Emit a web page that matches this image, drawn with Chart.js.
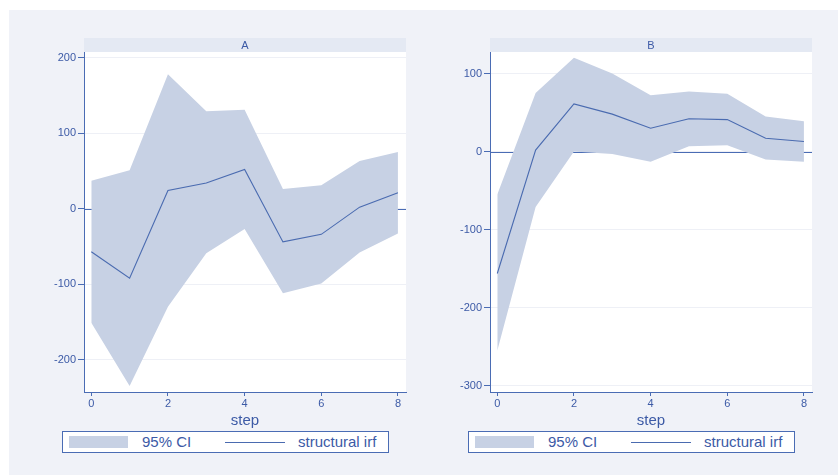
<!DOCTYPE html>
<html>
<head>
<meta charset="utf-8">
<script src="https://cdn.jsdelivr.net/npm/chart.js@4/dist/chart.umd.min.js"></script>
<style>
  html, body { margin: 0; padding: 0; background: #ffffff; width: 838px; height: 475px; overflow: hidden; font-family: "Liberation Sans", Arial, sans-serif; }
  #bg { position: absolute; left: 9px; top: 10px; width: 829px; height: 465px; background: #f0f2f8; }
  .cv { position: absolute; top: 0; }
  .legend { position: absolute; top: 431px; width: 325px; height: 20px; border: 1px solid #4a6cb4; background: #ffffff; color: #3c5aa6; font-size: 15px; }
  .legend .sw { position: absolute; left: 6px; top: 4px; width: 59px; height: 12px; background: #c7d1e4; }
  .legend .t1 { position: absolute; left: 79px; top: 1px; line-height: 18px; }
  .legend .ln { position: absolute; left: 162px; top: 10px; width: 60px; height: 1px; background: #4a6bb0; }
  .legend .t2 { position: absolute; left: 235px; top: 1px; line-height: 18px; }
</style>
</head>
<body>
<div id="bg"></div>
<canvas id="cA" class="cv" style="left:0px" width="420" height="430"></canvas>
<canvas id="cB" class="cv" style="left:420px" width="418" height="430"></canvas>
<div class="legend" style="left:62px"><div class="sw"></div><span class="t1">95% CI</span><div class="ln"></div><span class="t2">structural irf</span></div>
<div class="legend" style="left:468px"><div class="sw"></div><span class="t1">95% CI</span><div class="ln"></div><span class="t2">structural irf</span></div>
<script>
const steps = [0, 1, 2, 3, 4, 5, 6, 7, 8];
const xTicks = [0, 2, 4, 6, 8];

const A_upper = [37, 51, 178, 129, 131, 26, 31, 63, 75];
const A_irf   = [-57, -92, 24, 34, 52, -44, -34, 2, 21];
const A_lower = [-151, -235, -130, -59, -27, -112, -99, -58, -33];
const A_yTicks = [-200, -100, 0, 100, 200];

const B_upper = [-55, 75, 120, 100, 72, 77, 74, 45, 39];
const B_irf   = [-156, 2, 61, 48, 30, 42, 41, 17, 13];
const B_lower = [-255, -71, 0, -3, -13, 7, 8, -10, -13];
const B_yTicks = [-300, -200, -100, 0, 100];

const AXIS = '#4a6cb4';
const TXT = '#3c5aa6';
const FILL = '#c7d1e4';
const LINE = '#4a6bb0';
const STRIP = '#e4e9f3';
const GRID = '#eef0f6';

function pts(arr) { return steps.map((s, i) => ({ x: s, y: arr[i] })); }

function panelPlugin(title) {
  return {
    id: 'panel' + title,
    beforeDraw(chart) {
      const { ctx, chartArea: a } = chart;
      ctx.save();
      ctx.fillStyle = '#ffffff';
      ctx.fillRect(a.left, a.top, a.right - a.left, a.bottom - a.top);
      ctx.fillStyle = STRIP;
      ctx.fillRect(a.left, 38, a.right - a.left, 14);
      ctx.fillStyle = TXT;
      ctx.font = '11px "Liberation Sans", Arial, sans-serif';
      ctx.textAlign = 'center';
      ctx.textBaseline = 'middle';
      ctx.fillText(title, (a.left + a.right) / 2, 45.5);
      ctx.restore();
    },
    beforeDatasetsDraw(chart) {
      const { ctx, chartArea: a, scales } = chart;
      const y0 = Math.round(scales.y.getPixelForValue(0)) + 0.5;
      ctx.save();
      ctx.strokeStyle = AXIS;
      ctx.lineWidth = 1;
      ctx.beginPath();
      ctx.moveTo(a.left, y0);
      ctx.lineTo(a.right, y0);
      ctx.stroke();
      ctx.restore();
    }
  };
}

function makeChart(id, title, upper, irf, lower, yTicks, ymin, ymax, yWidth, padRight) {
  return new Chart(document.getElementById(id), {
    type: 'scatter',
    data: {
      datasets: [
        { label: '95% CI', data: pts(upper), showLine: true, fill: '+1', backgroundColor: FILL, borderWidth: 0, pointRadius: 0, tension: 0, order: 2 },
        { label: 'lower', data: pts(lower), showLine: true, fill: false, borderWidth: 0, borderColor: 'rgba(0,0,0,0)', pointRadius: 0, tension: 0, order: 2 },
        { label: 'structural irf', data: pts(irf), showLine: true, fill: false, borderColor: LINE, borderWidth: 1.1, pointRadius: 0, tension: 0, order: 1 }
      ]
    },
    options: {
      responsive: false,
      animation: false,
      events: [],
      layout: { padding: { top: 52, right: padRight, left: 0, bottom: 0 } },
      plugins: { legend: { display: false }, tooltip: { enabled: false } },
      scales: {
        x: {
          type: 'linear', min: -0.19, max: 8.21,
          afterBuildTicks(s) { s.ticks = xTicks.map(v => ({ value: v })); },
          afterFit(s) { s.height = 38; },
          grid: { drawOnChartArea: false, tickLength: 4, color: AXIS, tickColor: AXIS },
          border: { display: true, color: AXIS, width: 1 },
          ticks: { color: TXT, font: { size: 11, family: '"Liberation Sans", Arial, sans-serif' }, padding: 1, maxRotation: 0 },
          title: { display: true, text: 'step', color: TXT, font: { size: 15, family: '"Liberation Sans", Arial, sans-serif' }, padding: { top: 3, bottom: 0 } }
        },
        y: {
          type: 'linear', min: ymin, max: ymax,
          afterBuildTicks(s) { s.ticks = yTicks.map(v => ({ value: v })); },
          afterFit(s) { s.width = yWidth; },
          grid: { drawOnChartArea: true, color: GRID, tickLength: 6, tickColor: AXIS },
          border: { display: true, color: AXIS, width: 1 },
          ticks: { color: TXT, font: { size: 11, family: '"Liberation Sans", Arial, sans-serif' }, padding: 2 }
        }
      }
    },
    plugins: [panelPlugin(title)]
  });
}

makeChart('cA', 'A', A_upper, A_irf, A_lower, A_yTicks, -242.8, 207.5, 84, 14);
makeChart('cB', 'B', B_upper, B_irf, B_lower, B_yTicks, -307.7, 127.5, 70, 26);
</script>
</body>
</html>
